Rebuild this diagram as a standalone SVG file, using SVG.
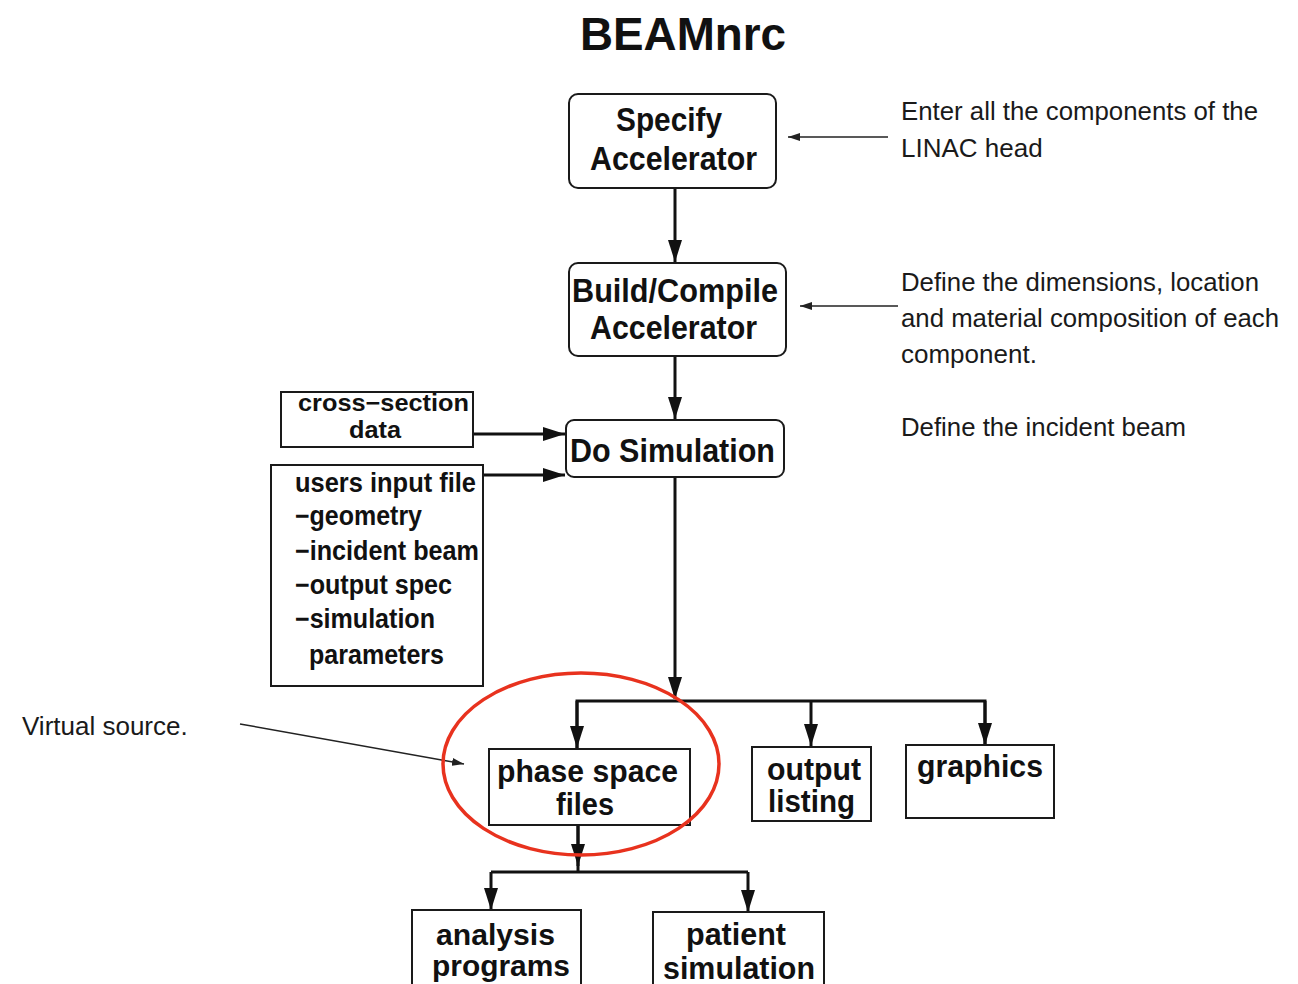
<svg xmlns="http://www.w3.org/2000/svg" width="1298" height="984" viewBox="0 0 1298 984">
<style>
.box{fill:#fff;stroke:#1a1a1a;stroke-width:2}
.lbl{font-family:"Liberation Sans",Arial,sans-serif;font-weight:bold;fill:#111}
.note{font-family:"Liberation Sans",Arial,sans-serif;font-size:26px;fill:#1a1a1a}
.con{fill:none;stroke:#111;stroke-width:3}
.thin{fill:none;stroke:#222;stroke-width:1.5}
</style>
<defs>
<marker id="ah" markerUnits="userSpaceOnUse" markerWidth="22" markerHeight="14" refX="22" refY="7" orient="auto"><path d="M0,0 L22,7 L0,14 z" fill="#111"/></marker>
<marker id="ahs" markerUnits="userSpaceOnUse" markerWidth="12" markerHeight="8" refX="12" refY="4" orient="auto"><path d="M0,0 L12,4 L0,8 z" fill="#222"/></marker>
</defs>
<rect width="1298" height="984" fill="#fff"/>
<text x="683" y="50" text-anchor="middle" class="lbl" font-size="46" textLength="206" lengthAdjust="spacingAndGlyphs">BEAMnrc</text>

<g id="connectors">
<line class="con" x1="675" y1="188" x2="675" y2="262" marker-end="url(#ah)"/>
<line class="con" x1="675" y1="356" x2="675" y2="419" marker-end="url(#ah)"/>
<line class="con" x1="473" y1="434" x2="565" y2="434" marker-end="url(#ah)"/>
<line class="con" x1="482" y1="475" x2="565" y2="475" marker-end="url(#ah)"/>
<line class="con" x1="675" y1="477" x2="675" y2="699" marker-end="url(#ah)"/>
<polyline class="con" points="577,748 577,701 985,701 985,745"/>
<line class="con" x1="577" y1="701" x2="577" y2="748" marker-end="url(#ah)"/>
<line class="con" x1="811" y1="701" x2="811" y2="746" marker-end="url(#ah)"/>
<line class="con" x1="985" y1="701" x2="985" y2="745" marker-end="url(#ah)"/>
<line class="con" x1="578" y1="825" x2="578" y2="866" marker-end="url(#ah)"/>
<polyline class="con" points="491,872 748,872"/>
<line class="con" x1="578" y1="825" x2="578" y2="872"/>
<line class="con" x1="491" y1="872" x2="491" y2="910" marker-end="url(#ah)"/>
<line class="con" x1="748" y1="872" x2="748" y2="912" marker-end="url(#ah)"/>
<line class="thin" x1="888" y1="137" x2="788" y2="137" marker-end="url(#ahs)"/>
<line class="thin" x1="898" y1="306" x2="800" y2="306" marker-end="url(#ahs)"/>
<line class="thin" x1="240" y1="724" x2="464" y2="764" marker-end="url(#ahs)"/>
</g>

<g id="specify">
<rect class="box" x="569" y="94" width="207" height="94" rx="9"/>
<text class="lbl" font-size="33" x="669" y="131" text-anchor="middle" textLength="106" lengthAdjust="spacingAndGlyphs">Specify</text>
<text class="lbl" font-size="33" x="673.5" y="170" text-anchor="middle" textLength="167" lengthAdjust="spacingAndGlyphs">Accelerator</text>
</g>
<g id="build">
<rect class="box" x="569" y="263" width="217" height="93" rx="9"/>
<text class="lbl" font-size="33" x="675" y="302" text-anchor="middle" textLength="206" lengthAdjust="spacingAndGlyphs">Build/Compile</text>
<text class="lbl" font-size="33" x="673.5" y="339" text-anchor="middle" textLength="167" lengthAdjust="spacingAndGlyphs">Accelerator</text>
</g>
<g id="dosim">
<rect class="box" x="566" y="420" width="218" height="57" rx="8"/>
<text class="lbl" font-size="33" x="672.5" y="462" text-anchor="middle" textLength="205" lengthAdjust="spacingAndGlyphs">Do Simulation</text>
</g>
<g id="crosssection">
<rect class="box" x="281" y="392" width="192" height="55"/>
<text class="lbl" font-size="24" x="383.5" y="411" text-anchor="middle" textLength="171" lengthAdjust="spacingAndGlyphs">cross−section</text>
<text class="lbl" font-size="24" x="375" y="438" text-anchor="middle" textLength="52" lengthAdjust="spacingAndGlyphs">data</text>
</g>
<g id="usersinput">
<rect class="box" x="271" y="465" width="212" height="221"/>
<text class="lbl" font-size="27" x="295" y="492" textLength="181" lengthAdjust="spacingAndGlyphs">users input file</text>
<text class="lbl" font-size="27" x="295" y="525" textLength="127" lengthAdjust="spacingAndGlyphs">−geometry</text>
<text class="lbl" font-size="27" x="295" y="560" textLength="184" lengthAdjust="spacingAndGlyphs">−incident beam</text>
<text class="lbl" font-size="27" x="295" y="594" textLength="157" lengthAdjust="spacingAndGlyphs">−output spec</text>
<text class="lbl" font-size="27" x="295" y="628" textLength="140" lengthAdjust="spacingAndGlyphs">−simulation</text>
<text class="lbl" font-size="27" x="309" y="664" textLength="135" lengthAdjust="spacingAndGlyphs">parameters</text>
</g>
<g id="phasespace">
<rect class="box" x="489" y="749" width="201" height="76"/>
<text class="lbl" font-size="31" x="587.5" y="782" text-anchor="middle" textLength="181" lengthAdjust="spacingAndGlyphs">phase space</text>
<text class="lbl" font-size="31" x="585" y="815" text-anchor="middle" textLength="58" lengthAdjust="spacingAndGlyphs">files</text>
</g>
<g id="outputlisting">
<rect class="box" x="752" y="747" width="119" height="74"/>
<text class="lbl" font-size="31" x="814" y="780" text-anchor="middle" textLength="94" lengthAdjust="spacingAndGlyphs">output</text>
<text class="lbl" font-size="31" x="811.5" y="812" text-anchor="middle" textLength="87" lengthAdjust="spacingAndGlyphs">listing</text>
</g>
<g id="graphics">
<rect class="box" x="906" y="745" width="148" height="73"/>
<text class="lbl" font-size="31" x="980" y="777" text-anchor="middle" textLength="126" lengthAdjust="spacingAndGlyphs">graphics</text>
</g>
<g id="analysis">
<rect class="box" x="412" y="910" width="169" height="90"/>
<text class="lbl" font-size="29" x="495.5" y="945" text-anchor="middle" textLength="119" lengthAdjust="spacingAndGlyphs">analysis</text>
<text class="lbl" font-size="29" x="501" y="976" text-anchor="middle" textLength="138" lengthAdjust="spacingAndGlyphs">programs</text>
</g>
<g id="patient">
<rect class="box" x="653" y="912" width="171" height="90"/>
<text class="lbl" font-size="31" x="736" y="945" text-anchor="middle" textLength="100" lengthAdjust="spacingAndGlyphs">patient</text>
<text class="lbl" font-size="31" x="739" y="979" text-anchor="middle" textLength="152" lengthAdjust="spacingAndGlyphs">simulation</text>
</g>

<ellipse id="highlight" cx="581" cy="764" rx="138" ry="91" fill="none" stroke="#e8321e" stroke-width="3.5"/>

<g id="notes">
<text class="note" x="22" y="735">Virtual source.</text>
<text class="note" x="901" y="120" textLength="357" lengthAdjust="spacingAndGlyphs">Enter all the components of the</text>
<text class="note" x="901" y="157">LINAC head</text>
<text class="note" x="901" y="291" textLength="358" lengthAdjust="spacingAndGlyphs">Define the dimensions, location</text>
<text class="note" x="901" y="327" textLength="378" lengthAdjust="spacingAndGlyphs">and material composition of each</text>
<text class="note" x="901" y="363">component.</text>
<text class="note" x="901" y="436" textLength="285" lengthAdjust="spacingAndGlyphs">Define the incident beam</text>
</g>
</svg>
